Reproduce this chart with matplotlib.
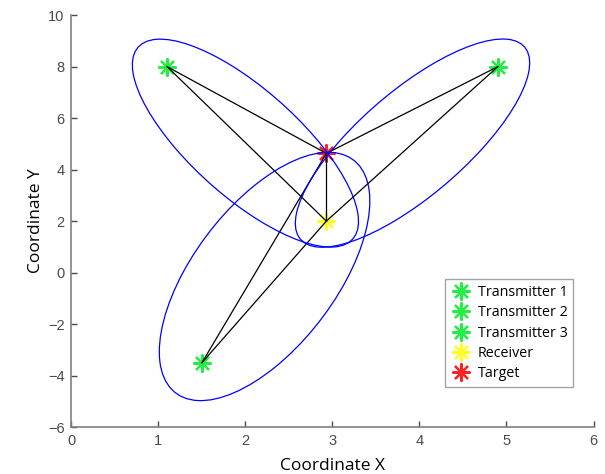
import matplotlib
matplotlib.use("Agg")
import matplotlib.pyplot as plt
from matplotlib.patches import Ellipse

# positions
tx_x = [1.1, 4.9, 1.5]
tx_y = [8.0, 8.0, -3.5]
tx_labels = ["Transmitter 1", "Transmitter 2", "Transmitter 3"]
rx_x, rx_y = 2.93, 2.0
tg_x, tg_y = 2.93, 4.63

# ellipse per transmitter: centre, semi axes (data units), angle in degrees
ell_cx = [2.0, 3.92, 2.22]
ell_cy = [5.03, 5.03, -0.15]
ell_a = [4.16, 4.18, 4.88]
ell_b = [0.83, 0.83, 0.95]
ell_ang = [-75.8, 75.0, 81.0]

x_ticks = [0, 1, 2, 3, 4, 5, 6]
y_ticks = [-6, -4, -2, 0, 2, 4, 6, 8, 10]

tick_col = "#4a4a4a"
asterisk = (8, 2, 0)
msize = 13
mew = 1.6

fig = plt.figure(figsize=(6.05, 4.74), dpi=100)
ax = fig.add_axes([0.118, 0.099, 0.863, 0.869])

# markers first, lines go on top of them like in the original
for i in range(len(tx_x)):
    ax.plot(tx_x[i], tx_y[i], linestyle="none", marker=asterisk, markersize=msize,
            markeredgewidth=mew, color="#22ee44", label=tx_labels[i], zorder=2)
ax.plot(rx_x, rx_y, linestyle="none", marker=asterisk, markersize=msize,
        markeredgewidth=mew, color="#ffff22", label="Receiver", zorder=2)
ax.plot(tg_x, tg_y, linestyle="none", marker=asterisk, markersize=msize,
        markeredgewidth=mew, color="#ff2222", label="Target", zorder=2)

for i in range(len(tx_x)):
    ax.plot([tx_x[i], tg_x], [tx_y[i], tg_y], color="black", lw=0.9, zorder=3)
    ax.plot([tx_x[i], rx_x], [tx_y[i], rx_y], color="black", lw=0.9, zorder=3)
ax.plot([tg_x, rx_x], [tg_y, rx_y], color="black", lw=0.9, zorder=3)

for i in range(len(ell_cx)):
    e = Ellipse((ell_cx[i], ell_cy[i]), 2 * ell_a[i], 2 * ell_b[i], angle=ell_ang[i],
                fill=False, edgecolor="#0000ff", lw=0.9, zorder=4)
    ax.add_patch(e)

ax.set_xlim(0, 6)
ax.set_ylim(-6, 10)
ax.set_xticks(x_ticks)
ax.set_yticks(y_ticks)
ax.tick_params(direction="in", length=4, width=1, colors=tick_col,
               labelsize=10.5, pad=5)
for lbl in ax.get_xticklabels() + ax.get_yticklabels():
    lbl.set_family("Liberation Sans")
for s in ["top", "right"]:
    ax.spines[s].set_visible(False)
for s in ["left", "bottom"]:
    ax.spines[s].set_color("#808080")
    ax.spines[s].set_linewidth(1.2)

ax.set_xlabel("Coordinate X", fontsize=12.5, family="Open Sans", labelpad=7)
ax.set_ylabel("Coordinate Y", fontsize=12.5, family="Open Sans", labelpad=3)

leg = ax.legend(loc="lower right", bbox_to_anchor=(0.961, 0.097),
                prop={"family": "Open Sans", "size": 10.3}, frameon=True, fancybox=False,
                handlelength=1.4, handletextpad=0.45, borderpad=0.4, labelspacing=0.38,
                borderaxespad=0)
leg.get_frame().set_edgecolor("#8c8c8c")
leg.get_frame().set_linewidth(1.0)

fig.savefig("out.png", dpi=100)
